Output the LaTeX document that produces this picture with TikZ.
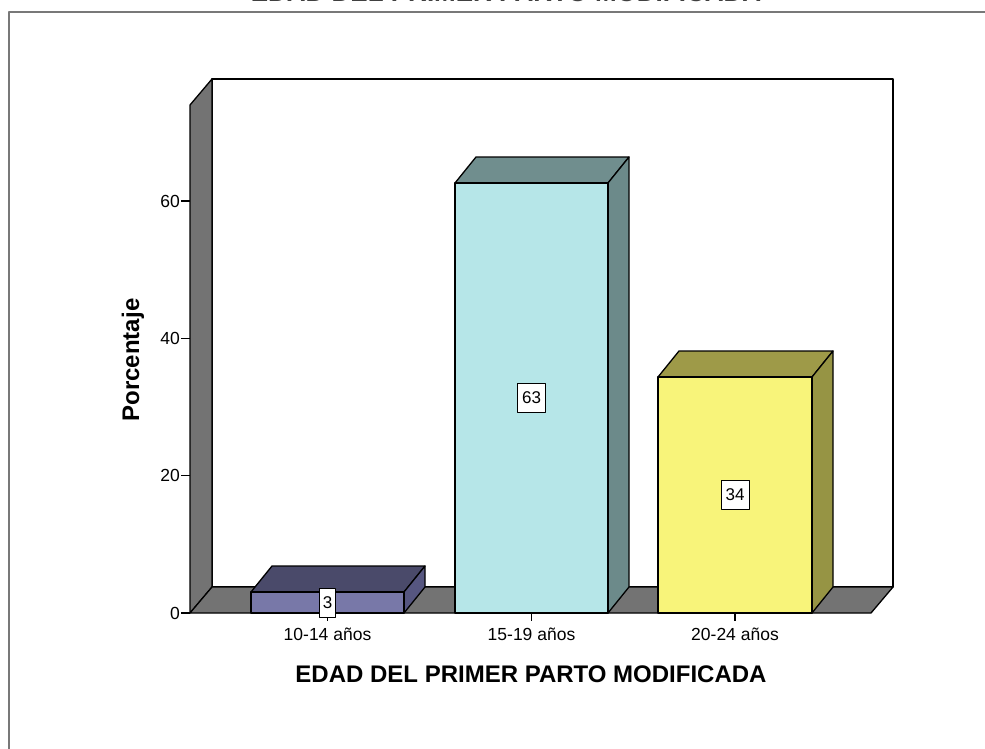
\documentclass[tikz,border=0pt]{standalone}
\usepackage{fontspec}
\setmainfont{Liberation Sans}
\definecolor{wall}{RGB}{115,115,115}
\definecolor{frame}{RGB}{120,120,120}
\definecolor{bAf}{RGB}{120,120,168}
\definecolor{bAt}{RGB}{74,74,106}
\definecolor{bAs}{RGB}{86,86,128}
\definecolor{bBf}{RGB}{182,230,232}
\definecolor{bBt}{RGB}{112,142,142}
\definecolor{bBs}{RGB}{108,138,138}
\definecolor{bCf}{RGB}{248,244,122}
\definecolor{bCt}{RGB}{158,154,72}
\definecolor{bCs}{RGB}{150,148,68}
\newcommand\drawbar[6]{%
  \filldraw[edge, fill=#5] (#1,#3) -- (#1+21,#3-26) -- (#2+21,#3-26) -- (#2,#3) -- cycle;
  \filldraw[edge, fill=#6] (#2,#3) -- (#2+21,#3-26) -- (#2+21,587) -- (#2,613) -- cycle;
  \filldraw[edge, fill=#4] (#1,#3) rectangle (#2,613);
}
\begin{document}
\begin{tikzpicture}[x=1pt,y=-1pt, line join=round,
  edge/.style={draw=black, line width=1.3pt},
  valbox/.style={draw=black, fill=white, line width=0.9pt, minimum height=29pt, minimum width=18pt, inner xsep=4.5pt, inner ysep=0pt, font=\fontsize{17}{17}\selectfont},
  ticklab/.style={font=\fontsize{17.5}{18}\selectfont},
  axtitle/.style={font=\fontsize{24}{26}\selectfont\bfseries},
  tick/.style={draw=black, line width=1.2pt}]
\useasboundingbox (0,0) rectangle (985,749);
\clip (0,0) rectangle (985,749);
\fill[white] (0,0) rectangle (985,749);
% top title (cut by the page edge)
\node[anchor=base, font=\fontsize{26}{28}\selectfont\bfseries, text=black!75] (title) at (506,2) {EDAD DEL PRIMER PARTO MODIFICADA};
% outer frame
\draw[frame, line width=2.4pt] (9,760) -- (9,12) -- (995,12);
% back wall
\filldraw[edge, fill=white] (212,79) rectangle (893,587);
% left wall
\filldraw[edge, fill=wall] (190,613) -- (212,587) -- (212,79) -- (190,105) -- cycle;
% floor
\filldraw[edge, fill=wall] (190,613) -- (871,613) -- (893,587) -- (212,587) -- cycle;
% bars
\drawbar{251}{404}{592}{bAf}{bAt}{bAs}
\drawbar{455}{608}{183}{bBf}{bBt}{bBs}
\drawbar{658}{812}{377}{bCf}{bCt}{bCs}
% x ticks
\coordinate (xa) at (327.5,613); \coordinate (xb) at (531.5,613); \coordinate (xc) at (735,613);
\foreach \c in {xa,xb,xc} \draw[tick] (\c) -- ++(0,8);
% value labels
\node[valbox, minimum width=16pt, inner xsep=2pt] (va) at (327.5,602.5) {3};
\node[valbox] (vb) at (531.5,398) {63};
\node[valbox] (vc) at (735,495) {34};
% y ticks and labels
\foreach \v/\y in {0/613,20/475.7,40/338.3,60/201} {
  \draw[tick] (181,\y) -- (190,\y);
  \node[ticklab, anchor=east, inner sep=1pt] (y\v) at (181,\y) {\v};
}
% x labels
\node[ticklab, anchor=base] (la) at (327.5,640) {10-14 años};
\node[ticklab, anchor=base] (lb) at (531.5,640) {15-19 años};
\node[ticklab, anchor=base] (lc) at (735,640) {20-24 años};
% axis titles
\node[axtitle, rotate=90] (ytitle) at (133,360) {Porcentaje};
\node[axtitle] (xtitle) at (531,674) {EDAD DEL PRIMER PARTO MODIFICADA};
\end{tikzpicture}
\end{document}
